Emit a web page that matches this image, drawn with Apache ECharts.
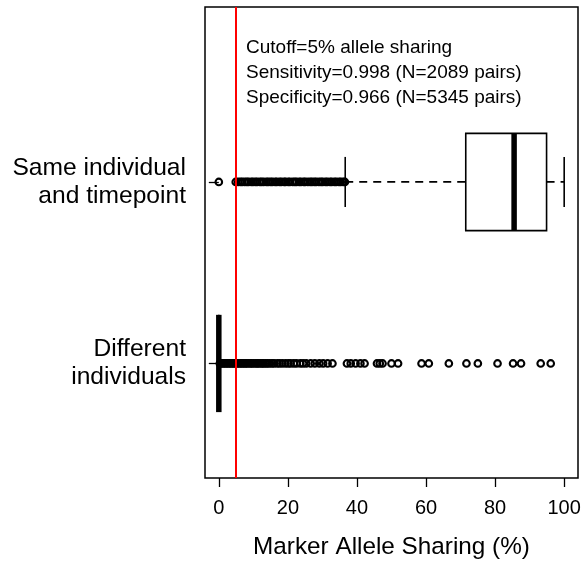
<!DOCTYPE html>
<html>
<head>
<meta charset="utf-8">
<script src="https://cdn.jsdelivr.net/npm/echarts@6/dist/echarts.min.js"></script>
<style>
html,body{margin:0;padding:0;background:#fff;}
#c{width:581px;height:561px;}
</style>
</head>
<body>
<div id="c"></div>
<script>
// ---- data ----
const groupNames = ['Different\nindividuals', 'Same individual\nand timepoint'];
const groupPos = [1, 2];
// [position, lower whisker, Q1, median, Q3, upper whisker]
const boxStats = [
  [1, 0, 0, 0, 0, 0],
  [2, 36.6, 71.5, 85.5, 94.9, 100]
];
const sameOutliers = [0, 4.9, 5.6, 6.3, 6.8, 7.5, 8.1, 8.6, 9.4, 9.9, 10.6, 11.1, 11.9, 12.4, 13.0, 13.8, 14.3, 15.0, 15.5, 16.3, 16.8, 17.6, 18.1, 18.9, 19.3, 20.1, 20.6, 21.4, 22.0, 22.5, 23.3, 23.8, 24.6, 25.0, 25.8, 26.5, 27.0, 27.7, 28.2, 29.0, 29.6, 30.1, 30.9, 31.4, 32.2, 32.7, 33.5, 34.0, 34.8, 35.3, 36.0, 36.5];
const diffOutliers = [0.3, 0.8, 1.2, 1.7, 2.1, 2.6, 3.0, 3.5, 3.9, 4.4, 4.8, 5.3, 5.8, 6.2, 6.7, 7.1, 7.6, 8.0, 8.5, 9.1, 9.5, 10.0, 10.6, 11.1, 11.5, 12.1, 12.6, 13.0, 13.6, 14.1, 14.7, 15.4, 16.0, 16.9, 17.6, 18.4, 19.3, 20.1, 20.8, 21.7, 22.5, 23.6, 24.4, 25.3, 26.6, 27.8, 29.1, 30.2, 31.5, 32.9, 37.1, 38.2, 39.6, 41.0, 42.2, 45.8, 46.6, 47.4, 50.0, 51.9, 58.7, 60.8, 66.6, 71.7, 75.0, 80.7, 85.2, 87.5, 93.2, 96.1];
const xTicks = [0, 20, 40, 60, 80, 100];
const cutoff = 5;
const annotation = ['Cutoff=5% allele sharing', 'Sensitivity=0.998 (N=2089 pairs)', 'Specificity=0.966 (N=5345 pairs)'];

const FONT = "'Liberation Sans', Arial, Helvetica, sans-serif";
const chart = echarts.init(document.getElementById('c'), null, {renderer: 'canvas'});

const outlierData = [];
sameOutliers.forEach(v => outlierData.push([v, 2]));
diffOutliers.forEach(v => outlierData.push([v, 1]));

const BOX_HALF = 0.268, STAPLE_HALF = 0.138;

function renderBox(params, api) {
  const y = api.value(0), lo = api.value(1), q1 = api.value(2), med = api.value(3), q3 = api.value(4), hi = api.value(5);
  const c = (x, yy) => api.coord([x, yy]);
  const ln = (a, b, style) => ({type: 'line', shape: {x1: a[0], y1: a[1], x2: b[0], y2: b[1]}, style: style});
  const base = {stroke: '#000', lineWidth: 1.6};
  const dash = {stroke: '#000', lineWidth: 1.8, lineDash: [8, 6]};
  const tl = c(q1, y + BOX_HALF), br = c(q3, y - BOX_HALF);
  return {
    type: 'group',
    children: [
      ln(c(lo, y), c(q1, y), dash),
      ln(c(q3, y), c(hi, y), dash),
      ln(c(lo, y - STAPLE_HALF), c(lo, y + STAPLE_HALF), base),
      ln(c(hi, y - STAPLE_HALF), c(hi, y + STAPLE_HALF), base),
      {type: 'rect', shape: {x: tl[0], y: tl[1], width: br[0] - tl[0], height: br[1] - tl[1]}, style: {fill: '#fff', stroke: '#000', lineWidth: 1.6}},
      ln(c(med, y - BOX_HALF), c(med, y + BOX_HALF), {stroke: '#000', lineWidth: 5.5})
    ]
  };
}

chart.setOption({
  animation: false,
  backgroundColor: '#fff',
  grid: {left: 205, right: 3, top: 7, bottom: 83, outerBoundsMode: 'none', containLabel: false, show: true, borderColor: '#000', borderWidth: 1.5, backgroundColor: 'transparent'},
  xAxis: {
    type: 'value', min: -4, max: 104,
    axisLine: {show: false},
    splitLine: {show: false},
    axisTick: {show: true, length: 9, inside: false, customValues: xTicks, lineStyle: {color: '#000', width: 1.3}},
    axisLabel: {customValues: xTicks, margin: 20, color: '#000', fontSize: 20, fontFamily: FONT, hideOverlap: false},
    name: 'Marker Allele Sharing (%)', nameLocation: 'middle', nameGap: 57,
    nameTextStyle: {color: '#000', fontSize: 24.3, fontFamily: FONT}
  },
  yAxis: {
    type: 'value', min: 0.369, max: 2.964,
    axisLine: {show: false},
    splitLine: {show: false},
    axisTick: {show: true, length: 10, inside: false, customValues: groupPos, lineStyle: {color: '#000', width: 1.3}},
    axisLabel: {
      customValues: groupPos, margin: 19, color: '#000', fontSize: 24.6, lineHeight: 28, fontFamily: FONT, align: 'right',
      formatter: v => groupNames[groupPos.indexOf(v)] || ''
    }
  },
  graphic: [{
    type: 'text', left: 246, top: 35,
    style: {text: annotation.join('\n'), font: '19px ' + FONT, lineHeight: 25, fill: '#000'}
  }],
  series: [
    {
      type: 'custom', renderItem: renderBox, data: boxStats,
      encode: {x: [1, 2, 3, 4, 5], y: 0}, z: 2, silent: true
    },
    {
      type: 'scatter', data: outlierData, symbol: 'circle', symbolSize: 6.6,
      itemStyle: {color: 'rgba(0,0,0,0)', borderColor: '#000', borderWidth: 2.1, opacity: 1}, z: 3, silent: true,
      markLine: {
        silent: true, symbol: 'none', label: {show: false},
        lineStyle: {color: '#ff0000', width: 2, type: 'solid'},
        data: [{xAxis: cutoff}], z: 5
      }
    }
  ]
});
</script>
</body>
</html>
